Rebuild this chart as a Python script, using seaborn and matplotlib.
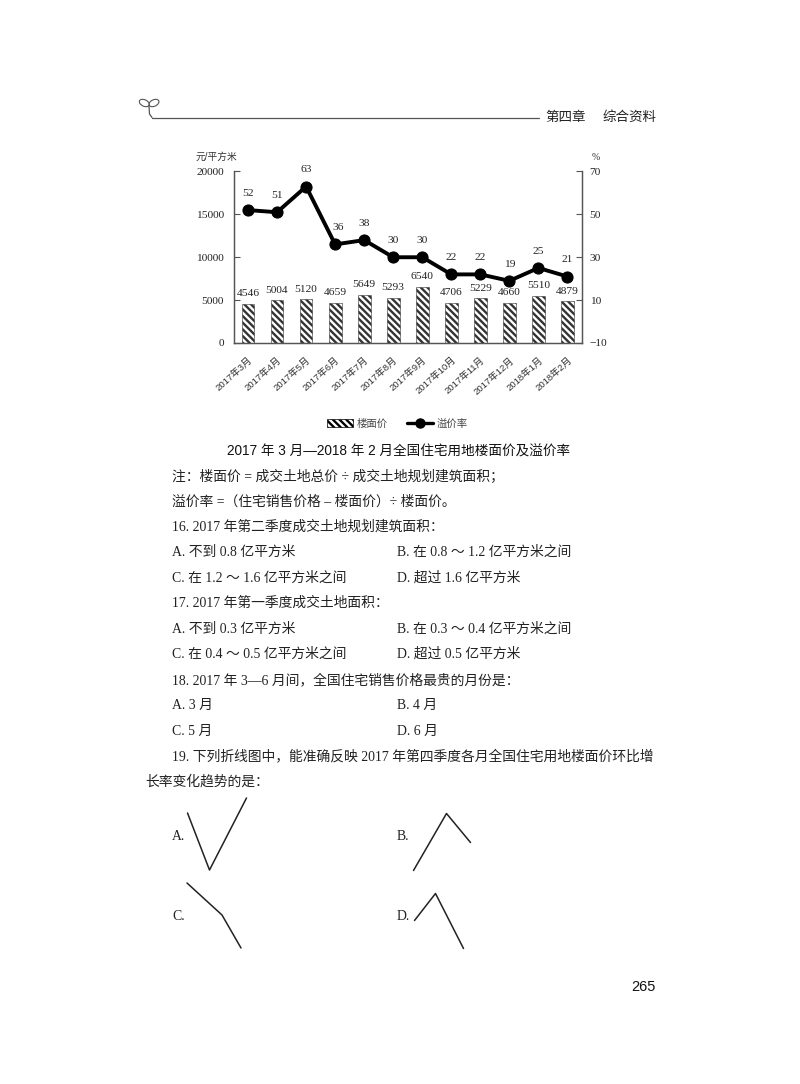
import pandas as pd
import matplotlib
matplotlib.use('Agg')
import matplotlib.pyplot as plt
from matplotlib.patches import Ellipse, Patch
from matplotlib.lines import Line2D
import seaborn as sns

# chart values
months = ['2017年3月', '2017年4月', '2017年5月', '2017年6月', '2017年7月', '2017年8月',
          '2017年9月', '2017年10月', '2017年11月', '2017年12月', '2018年1月', '2018年2月']
floor_price = [4546, 5004, 5120, 4659, 5649, 5293, 6540, 4706, 5229, 4660, 5510, 4879]
premium_rate = [52, 51, 63, 36, 38, 30, 30, 22, 22, 19, 25, 21]
left_ticks = [0, 5000, 10000, 15000, 20000]
right_ticks = [-10, 10, 30, 50, 70]

# the four answer sketches (A-D) of question 19
opt_a_x = [0, 22, 59]
opt_a_y = [57, 0, 72]
opt_b_x = [0, 33, 57]
opt_b_y = [0, 57, 28]
opt_c_x = [0, 35, 54]
opt_c_y = [65, 33, 0]
opt_d_x = [0, 21, 49]
opt_d_y = [28, 55, 0]

SERIF = ['Liberation Serif', 'Noto Sans CJK SC']
SANS = ['Liberation Sans', 'Noto Sans CJK SC']
W, H = 800, 1084

sns.set_theme(style='white')
plt.rcParams['font.family'] = SERIF
plt.rcParams['hatch.linewidth'] = 1.7
plt.rcParams['axes.unicode_minus'] = True

fig = plt.figure(figsize=(8, 10.84), dpi=100, facecolor='white')


def box(x0, y0, x1, y1):
    # pixel box (from the top left) to figure fractions
    return [x0 / W, 1 - y1 / H, (x1 - x0) / W, (y1 - y0) / H]


# page layer, in pixels
page = fig.add_axes([0, 0, 1, 1])
page.set_xlim(0, W)
page.set_ylim(H, 0)
page.set_axis_off()

# header rule and leaf
page.plot([152, 539], [117.5, 117.5], color='#555555', lw=0.9)
page.plot([149, 149.5, 152], [106, 114, 117.5], color='#555555', lw=0.9)
page.add_patch(Ellipse((144.3, 103), 10.5, 6.5, angle=25, fc='none', ec='#555555', lw=0.8))
page.add_patch(Ellipse((154, 103), 10.5, 6.5, angle=-25, fc='none', ec='#555555', lw=0.8))
page.text(545, 118, '第四章', fontsize=9.7, va='center', family=SANS, color='#222222')
page.text(603, 118, '综合资料', fontsize=9.7, va='center', family=SANS, color='#222222')

# main chart
df = pd.DataFrame({'month': months, 'price': floor_price, 'rate': premium_rate})
ax = fig.add_axes(box(233.5, 171.5, 582, 343))
sns.barplot(data=df, x='month', y='price', color='white', saturation=1, width=0.44,
            edgecolor='#333333', linewidth=0.4, hatch='\\\\\\\\\\', ax=ax)
ax.set_ylim(0, 20000)
ax.set_yticks(left_ticks)
ax.set_xlabel('')
ax.set_ylabel('')
ax.tick_params(axis='y', direction='in', length=4, width=0.8, color='#555555', left=True,
               labelsize=8.2, pad=7, labelcolor='#222222')
ax.tick_params(axis='x', length=0, pad=9)
plt.setp(ax.get_xticklabels(), rotation=42, ha='right', rotation_mode='anchor',
         fontsize=6.8, family=SANS, color='#333333')
ax.bar_label(ax.containers[0], labels=[str(v) for v in floor_price], padding=4,
             fontsize=8.2, color='#222222')

ax2 = ax.twinx()
sns.lineplot(data=df, x='month', y='rate', color='black', lw=2.8, marker='o', markersize=8,
             markeredgecolor='black', ax=ax2)
ax2.set_ylim(-10, 70)
ax2.set_yticks(right_ticks)
ax2.set_ylabel('')
ax2.set_xlim(-0.5, 11.5)
ax2.tick_params(axis='y', direction='in', length=4, width=0.8, color='#555555', right=True,
                labelsize=8.2, pad=5.5, labelcolor='#222222')
for i, v in enumerate(premium_rate):
    ax2.annotate(str(v), (i, v), xytext=(2 if i == 3 else 0, 12), textcoords='offset points',
                 ha='center', va='center', fontsize=8.2, color='#222222')
for a in (ax, ax2):
    a.spines['top'].set_visible(False)
    for s in ('left', 'right', 'bottom'):
        a.spines[s].set_color('#555555')
        a.spines[s].set_linewidth(0.9)

page.text(196, 157, '元/平方米', fontsize=7, va='center', family=SANS, color='#333333')
page.text(592, 157, '%', fontsize=7, va='center', color='#333333')

# legend under the chart
handles = [Patch(facecolor='white', edgecolor='black', linewidth=0.5, hatch='\\\\\\\\\\'),
           Line2D([], [], color='black', lw=2.4, marker='o', markersize=6.5)]
fig.legend(handles, ['楼面价', '溢价率'], loc='center', bbox_to_anchor=(397.5 / W, 1 - 423.5 / H),
           ncol=2, frameon=False, handlelength=2.5, handleheight=0.7,
           handletextpad=0.3, columnspacing=1.9, labelcolor='#444444',
           prop={'family': SANS, 'size': 7.5})

# title and question text
page.text(399, 452, '2017 年 3 月—2018 年 2 月全国住宅用地楼面价及溢价率', fontsize=9.8, ha='center',
          va='center', family=SANS, color='#111111')
body = [
    (172, 476, '注：楼面价 = 成交土地总价 ÷ 成交土地规划建筑面积；'),
    (172, 501, '溢价率 =（住宅销售价格 – 楼面价）÷ 楼面价。'),
    (172, 526, '16. 2017 年第二季度成交土地规划建筑面积：'),
    (172, 551, 'A. 不到 0.8 亿平方米'),
    (397, 551, 'B. 在 0.8 ～ 1.2 亿平方米之间'),
    (172, 577, 'C. 在 1.2 ～ 1.6 亿平方米之间'),
    (397, 577, 'D. 超过 1.6 亿平方米'),
    (172, 602, '17. 2017 年第一季度成交土地面积：'),
    (172, 628, 'A. 不到 0.3 亿平方米'),
    (397, 628, 'B. 在 0.3 ～ 0.4 亿平方米之间'),
    (172, 653, 'C. 在 0.4 ～ 0.5 亿平方米之间'),
    (397, 653, 'D. 超过 0.5 亿平方米'),
    (172, 679, '18. 2017 年 3—6 月间，全国住宅销售价格最贵的月份是：'),
    (172, 704, 'A. 3 月'),
    (397, 704, 'B. 4 月'),
    (172, 730, 'C. 5 月'),
    (397, 730, 'D. 6 月'),
    (172, 755, '19. 下列折线图中，能准确反映 2017 年第四季度各月全国住宅用地楼面价环比增'),
    (145, 781, '长率变化趋势的是：'),
    (172, 836, 'A.'),
    (397, 836, 'B.'),
    (172, 916, 'C.'),
    (397, 916, 'D.'),
]
for x, y, line in body:
    page.text(x, y + 1, line, fontsize=9.95, va='center', color='#222222')

page.text(656, 987, '265', fontsize=10.5, ha='right', va='center', family=SANS, color='#111111')

# answer sketches
sketches = [
    (187.5, 798, opt_a_x, opt_a_y),
    (413.5, 813.5, opt_b_x, opt_b_y),
    (187, 883, opt_c_x, opt_c_y),
    (414.5, 893.5, opt_d_x, opt_d_y),
]
for x0, y0, xs, ys in sketches:
    w = max(xs) - min(xs)
    h = max(ys) - min(ys)
    sub = fig.add_axes(box(x0, y0, x0 + w, y0 + h))
    sns.lineplot(x=xs, y=ys, sort=False, color='#222222', lw=1.1, clip_on=False, ax=sub)
    sub.set_xlim(min(xs), max(xs))
    sub.set_ylim(min(ys), max(ys))
    sub.set_axis_off()

fig.savefig('out.png', dpi=100)
